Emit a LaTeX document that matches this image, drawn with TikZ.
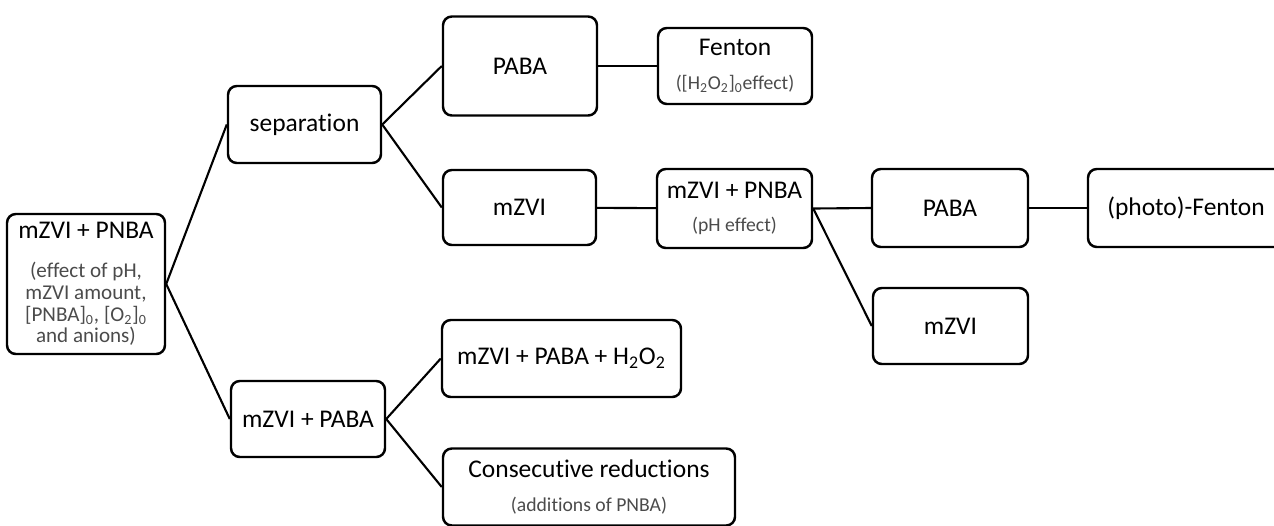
\documentclass[tikz,border=0pt]{standalone}
\usepackage{fontspec}
\setmainfont{Carlito}[Ligatures=NoCommon]
\usepackage{xcolor}
\definecolor{subgray}{RGB}{75,75,75}
\newcommand{\sub}[1]{\\[2pt]{\fontsize{11.2}{13}\selectfont\color{subgray}#1}}
\newcommand{\rootsub}[1]{{\fontsize{12}{14}\selectfont\color{subgray}#1}}

\begin{document}
\begin{tikzpicture}[x=0.02cm, y=-0.02cm,
		box/.style={draw, line width=1.4pt, rounded corners=5pt, align=center,
			inner sep=2pt, font=\fontsize{14.5}{17}\selectfont},
		link/.style={line width=1.2pt}];
				\useasboundingbox (0,0) rectangle (1274,525);
				\node[box, minimum width=158*0.02cm, minimum height=140*0.02cm] (root) at (86,284)
					{mZVI + PNBA\\[5pt]\rootsub{(effect of pH,}\\[-4.5pt]
					\rootsub{mZVI amount,}\\[-4.5pt]
					\rootsub{[PNBA]\textsubscript{0}, [O\textsubscript{2}]\textsubscript{0}}\\[-4.5pt]
					\rootsub{and anions)}};
				\node[box, minimum width=153*0.02cm, minimum height=77*0.02cm] (sep) at (304.5,124.5) {separation};
				\node[box, minimum width=154*0.02cm, minimum height=76*0.02cm] (mpaba) at (308,419) {mZVI + PABA};
				\node[box, minimum width=154*0.02cm, minimum height=99*0.02cm] (paba1) at (520,66) {PABA};
				\node[box, minimum width=154*0.02cm, minimum height=76*0.02cm] (fenton) at (735,66)
					{Fenton\sub{([H\textsubscript{2}O\textsubscript{2}]\textsubscript{0}effect)}};
				\node[box, minimum width=153*0.02cm, minimum height=75*0.02cm] (mzvi1) at (519.5,207.5) {mZVI};
				\node[box, minimum width=155*0.02cm, minimum height=79*0.02cm] (mpnba) at (734.5,208.5) {mZVI + PNBA\sub{(pH effect)}};
				\node[box, minimum width=156*0.02cm, minimum height=78*0.02cm] (paba2) at (950,208) {PABA};
				\node[box, minimum width=196*0.02cm, minimum height=78*0.02cm] (photo) at (1186,208) {(photo)-Fenton};
				\node[box, minimum width=155*0.02cm, minimum height=76*0.02cm] (mzvi2) at (950.5,326) {mZVI};
				\node[box, minimum width=239*0.02cm, minimum height=77*0.02cm] (ph2o2) at (561.5,358.5)
					{mZVI + PABA + H\textsubscript{2}O\textsubscript{2}};
				\node[box, minimum width=292*0.02cm, minimum height=77*0.02cm] (consec) at (589,487) {Consecutive reductions\sub{(additions of PNBA)}};
				% branches
				\draw[link] (root.east) -- (sep.west);
				\draw[link] (root.east) -- (mpaba.west);
				\draw[link] (sep.east) -- (paba1.west);
				\draw[link] (sep.east) -- (mzvi1.west);
				\draw[link] (paba1) -- (fenton);
				\draw[link] (mzvi1) -- (mpnba);
				\draw[link] (mpnba.east) -- (paba2.west);
				\draw[link] (mpnba.east) -- (mzvi2.west);
				\draw[link] (paba2) -- (photo);
				\draw[link] (mpaba.east) -- (ph2o2.west);
				\draw[link] (mpaba.east) -- (consec.west);
			\end{tikzpicture}
\end{document}
